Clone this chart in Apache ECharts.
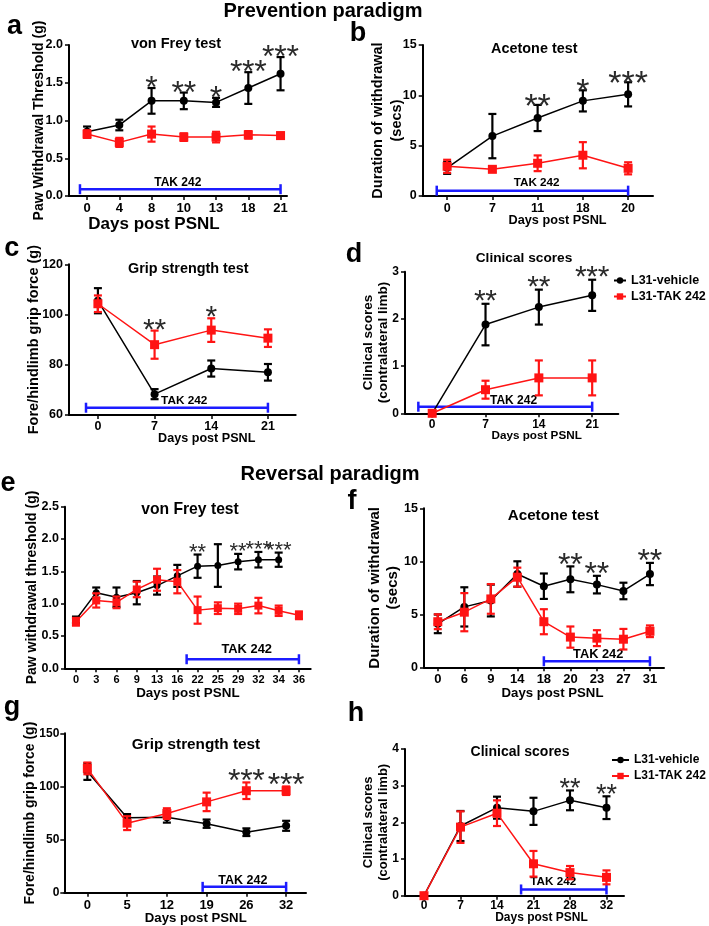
<!DOCTYPE html>
<html><head><meta charset="utf-8">
<script src="https://cdn.jsdelivr.net/npm/echarts@6/dist/echarts.min.js"></script>
<style>html,body{margin:0;padding:0;background:#fff}#c{width:709px;height:926px}</style>
</head><body><div id="c"></div>
<script>
// ================= DATA =================
// Panel a: Prevention, von Frey
const aDays = ['0','4','8','10','13','18','21'];
const aVehMean = [0.85, 0.94, 1.26, 1.26, 1.24, 1.43, 1.62];
const aVehErr  = [0.07, 0.07, 0.17, 0.11, 0.06, 0.21, 0.22];
const aTakMean = [0.82, 0.71, 0.82, 0.78, 0.78, 0.81, 0.80];
const aTakErr  = [0.05, 0.06, 0.10, 0.05, 0.07, 0.05, 0.04];
const aStars = ['', '', '*', '**', '*', '***', '***'];
const aTreat = [-0.22, 6, 0.09];          // [start index, end index, y value]
const aYAxis = [0, 2, 0.5];

// Panel b: Prevention, Acetone
const bDays = ['0','7','11','18','20'];
const bVehMean = [2.8, 5.95, 7.75, 9.45, 10.1];
const bVehErr  = [0.6, 2.2, 1.3, 1.05, 1.2];
const bTakMean = [2.95, 2.65, 3.25, 4.05, 2.75];
const bTakErr  = [0.65, 0.25, 0.78, 1.3, 0.6];
const bStars = ['', '', '**', '*', '***'];
const bTreat = [-0.23, 4, 0.53];
const bYAxis = [0, 15, 5];

// Panel c: Prevention, Grip strength
const cDays = ['0','7','14','21'];
const cVehMean = [105.5, 68.3, 78.5, 77];
const cVehErr  = [5, 2, 3.2, 3.3];
const cTakMean = [104.3, 88, 93.8, 90.6];
const cTakErr  = [3.3, 5.6, 4.7, 3.5];
const cStars = ['', '**', '*', ''];
const cTreat = [-0.21, 3, 62.9];
const cYAxis = [60, 120, 20];

// Panel d: Prevention, Clinical scores
const dDays = ['0','7','14','21'];
const dVehMean = [0, 1.88, 2.25, 2.5];
const dVehErr  = [0, 0.44, 0.37, 0.33];
const dTakMean = [0, 0.5, 0.75, 0.75];
const dTakErr  = [0, 0.19, 0.37, 0.37];
const dStars = ['', '**', '**', '***'];
const dTreat = [-0.26, 3, 0.14];
const dYAxis = [0, 3, 1];

// Panel e: Reversal, von Frey
const eDays = ['0','3','6','9','13','16','22','25','29','32','34','36'];
const eVehMean = [0.75, 1.17, 1.10, 1.17, 1.28, 1.43, 1.58, 1.59, 1.65, 1.68, 1.68];
const eVehErr  = [0.05, 0.08, 0.15, 0.18, 0.14, 0.17, 0.18, 0.33, 0.12, 0.12, 0.11];
const eTakMean = [0.72, 1.05, 1.02, 1.22, 1.37, 1.34, 0.90, 0.93, 0.92, 0.97, 0.89, 0.82];
const eTakErr  = [0.06, 0.11, 0.09, 0.12, 0.17, 0.18, 0.21, 0.09, 0.08, 0.12, 0.08, 0.06];
const eStars = ['', '', '', '', '', '', '**', '', '**', '***', '***', ''];
const eTreat = [5.46, 11, 0.14];
const eYAxis = [0, 2.5, 0.5];

// Panel f: Reversal, Acetone
const fDays = ['0','6','9','14','18','20','23','27','31'];
const fVehMean = [4.1, 5.7, 6.3, 8.8, 7.65, 8.3, 7.8, 7.2, 8.8];
const fVehErr  = [0.88, 1.85, 1.5, 1.2, 1.2, 1.22, 0.83, 0.78, 1.05];
const fTakMean = [4.3, 5.2, 6.45, 8.5, 4.3, 2.85, 2.75, 2.65, 3.4];
const fTakErr  = [0.7, 1.8, 1.4, 0.9, 1.18, 1.0, 0.75, 0.97, 0.55];
const fStars = ['', '', '', '', '', '**', '**', '', '**'];
const fTreat = [4, 8, 0.57];
const fYAxis = [0, 15, 5];

// Panel g: Reversal, Grip strength
const gDays = ['0','5','12','19','26','32'];
const gVehMean = [114, 70.5, 71, 65, 57, 63];
const gVehErr  = [7.8, 3.5, 5, 3.9, 3.6, 4.7];
const gTakMean = [117, 65.5, 74.5, 85.5, 96, 96];
const gTakErr  = [5.5, 6.5, 5, 8.7, 7.8, 4];
const gStars = ['', '', '', '', '***', '***'];
const gTreat = [2.9, 5, 5.6];
const gYAxis = [0, 150, 50];

// Panel h: Reversal, Clinical scores
const hDays = ['0','7','14','21','28','32'];
const hVehMean = [0, 1.9, 2.4, 2.3, 2.6, 2.4];
const hVehErr  = [0, 0.41, 0.3, 0.37, 0.27, 0.31];
const hTakMean = [0, 1.87, 2.25, 0.87, 0.63, 0.5];
const hTakErr  = [0, 0.43, 0.35, 0.35, 0.18, 0.19];
const hStars = ['', '', '', '', '**', '**'];
const hTreat = [2.66, 5, 0.17];
const hYAxis = [0, 4, 1];

const seriesNames = ['L31-vehicle', 'L31-TAK 242'];
const treatLabel = 'TAK 242';
const xName = 'Days post PSNL';

// ================= LAYOUT / STYLE =================
const FONT = '"Liberation Sans", Arial, sans-serif';
const BLACK = '#000', RED = '#ff1414', BLUE = '#1c1cff', STAR = '#2a2a2a';

const panels = [
 {days:aDays, vm:aVehMean, ve:aVehErr, tm:aTakMean, te:aTakErr, stars:aStars, treat:aTreat, y:aYAxis, dec:1,
  title:'von Frey test', yName:'Paw Withdrawal Threshold (g)', letter:'a',
  L:{grid:[69,45,218,151], xr:[-0.56,6.2], tt:[176,44,14.5], lt:[14.5,27], ynf:14, ynl:16, yng:22, xnf:17, xng:19.5, xns:-24,
     xtf:13, ytf:12.5, xlm:6, ylm:6, sf:32, sg:12.2, so:6, tf:12, tdy:7, tdx:-2.5, sym:8}},
 {days:bDays, vm:bVehMean, ve:bVehErr, tm:bTakMean, te:bTakErr, stars:bStars, treat:bTreat, y:bYAxis, dec:0,
  title:'Acetone test', yName:'Duration of withdrawal\n(secs)', letter:'b',
  L:{grid:[422.7,45,230.3,151], xr:[-0.54,4.55], tt:[534.3,49,14.4], lt:[358,34], ynf:14.5, ynl:19, yng:16, xnf:12.7, xng:17.6, xns:19.7,
     xtf:12.5, ytf:12.5, xlm:6, ylm:6, sf:34, sg:13.2, so:5, tf:11.7, tdy:7.7, tdx:4.2, sym:8}},
 {days:cDays, vm:cVehMean, ve:cVehErr, tm:cTakMean, te:cTakErr, stars:cStars, treat:cTreat, y:cYAxis, dec:0,
  title:'Grip strength test', yName:'Fore/hindlimb grip force (g)', letter:'c',
  L:{grid:[69,264.3,226.7,150.7], xr:[-0.51,3.49], tt:[188.3,269.3,14.4], lt:[11.7,249], ynf:14.5, ynl:16, yng:26.7, xnf:12.6, xng:17.2, xns:24.4,
     xtf:12.5, ytf:12.5, xlm:5.5, ylm:6, sf:30, sg:11.3, so:7, tf:11.8, tdy:6.7, tdx:7.3, sym:8}},
 {days:dDays, vm:dVehMean, ve:dVehErr, tm:dTakMean, te:dTakErr, stars:dStars, treat:dTreat, y:dYAxis, dec:0,
  title:'Clinical scores', yName:'Clinical scores\n(contralateral limb)', letter:'d',
  L:{grid:[405,271.7,213.3,141.6], xr:[-0.51,3.49], tt:[524,258.3,13.7], lt:[354,255], ynf:13.5, ynl:15, yng:14.5, xnf:11.7, xng:16.8, xns:25,
     xtf:12, ytf:12, xlm:5.5, ylm:6, sf:30, sg:11.3, so:9, tf:12, tdy:6, tdx:8.3, sym:8}},
 {days:eDays, vm:eVehMean, ve:eVehErr, tm:eTakMean, te:eTakErr, stars:eStars, treat:eTreat, y:eYAxis, dec:1,
  title:'von Frey test', yName:'Paw withdrawal threshold (g)', letter:'e',
  L:{grid:[65,506.7,245.7,161.6], xr:[-0.54,11.58], tt:[190,509.3,15.7], lt:[8,484], ynf:14, ynl:16, yng:25, xnf:13.4, xng:18.5, xns:0,
     xtf:11, ytf:12.5, xlm:6.5, ylm:6, sf:22, sg:8.5, so:7, tf:12.9, tdy:10, tdx:3.9, sym:7}},
 {days:fDays, vm:fVehMean, ve:fVehErr, tm:fTakMean, te:fTakErr, stars:fStars, treat:fTreat, y:fYAxis, dec:0,
  title:'Acetone test', yName:'Duration of withdrawal\n(secs)', letter:'f',
  L:{grid:[424,508.3,240,159], xr:[-0.52,8.53], tt:[553.3,516,15.2], lt:[352,502], ynf:15, ynl:18, yng:22, xnf:13.2, xng:19.6, xns:8.5,
     xtf:13, ytf:12.5, xlm:5.5, ylm:6, sf:32, sg:12.2, so:8, tf:12.8, tdy:7, tdx:1.3, sym:8}},
 {days:gDays, vm:gVehMean, ve:gVehErr, tm:gTakMean, te:gTakErr, stars:gStars, treat:gTreat, y:gYAxis, dec:0,
  title:'Grip strength test', yName:'Fore/hindlimb grip force (g)', letter:'g',
  L:{grid:[64.3,733.3,241.7,160], xr:[-0.58,5.5], tt:[196,745,15.3], lt:[12,708], ynf:14, ynl:16, yng:26, xnf:13.2, xng:19.2, xns:10.6,
     xtf:13, ytf:12, xlm:6, ylm:5, sf:32, sg:12.2, so:8, tf:12.5, tdy:6.6, tdx:-1.6, sym:8}},
 {days:hDays, vm:hVehMean, ve:hVehErr, tm:hTakMean, te:hTakErr, stars:hStars, treat:hTreat, y:hYAxis, dec:0,
  title:'Clinical scores', yName:'Clinical scores\n(contralateral limb)', letter:'h',
  L:{grid:[405,749,219,146.7], xr:[-0.52,5.48], tt:[520,751.7,14], lt:[356,714], ynf:13, ynl:15, yng:14.2, xnf:12, xng:16.1, xns:27,
     xtf:12, ytf:12, xlm:3.5, ylm:6, sf:27, sg:10.3, so:7, tf:11.7, tdy:7.6, tdx:-10.5, sym:8}}
];

function errRender(color, cap) {
  return function (params, api) {
    const x = api.value(0), m = api.value(1), e = api.value(2);
    if (!(e > 0)) return null;
    const t = api.coord([x, m + e]), b = api.coord([x, m - e]);
    const st = {stroke: color, lineWidth: 2.2};
    return {type: 'group', children: [
      {type: 'line', shape: {x1: t[0], y1: t[1], x2: b[0], y2: b[1]}, style: st},
      {type: 'line', shape: {x1: t[0] - cap, y1: t[1], x2: t[0] + cap, y2: t[1]}, style: st},
      {type: 'line', shape: {x1: b[0] - cap, y1: b[1], x2: b[0] + cap, y2: b[1]}, style: st}
    ]};
  };
}

const grids = [], xAxes = [], yAxes = [], series = [], graphics = [];
const txt = (size, extra) => Object.assign({color: BLACK, fontWeight: 'bold', fontSize: size, fontFamily: FONT}, extra || {});

graphics.push({type: 'text', x: 323, y: 11, style: {text: 'Prevention paradigm', fontSize: 20, fontWeight: 'bold', fontFamily: FONT, fill: BLACK, align: 'center', verticalAlign: 'middle'}});
graphics.push({type: 'text', x: 330, y: 474, style: {text: 'Reversal paradigm', fontSize: 20, fontWeight: 'bold', fontFamily: FONT, fill: BLACK, align: 'center', verticalAlign: 'middle'}});

panels.forEach((p, k) => {
  const L = p.L;
  grids.push({left: L.grid[0], top: L.grid[1], width: L.grid[2], height: L.grid[3], containLabel: false});
  const idx = p.days.map((_, i) => i);
  xAxes.push({
    type: 'value', gridIndex: k, min: L.xr[0], max: L.xr[1],
    axisLine: {show: true, onZero: false, lineStyle: {color: BLACK, width: 2}},
    axisTick: {show: true, customValues: idx, length: 4, lineStyle: {color: BLACK, width: 1.5}},
    axisLabel: {customValues: idx, formatter: v => p.days[Math.round(v)], color: BLACK, fontWeight: 'bold', fontSize: L.xtf, fontFamily: FONT, margin: L.xlm},
    splitLine: {show: false},
    name: xName, nameLocation: 'middle', nameGap: L.xng, nameMoveOverlap: false,
    nameTextStyle: txt(L.xnf, {padding: L.xns >= 0 ? [0, 0, 0, 2 * L.xns] : [0, -2 * L.xns, 0, 0]})
  });
  yAxes.push({
    type: 'value', gridIndex: k, min: p.y[0], max: p.y[1], interval: p.y[2],
    axisLine: {show: true, onZero: false, lineStyle: {color: BLACK, width: 2}},
    axisTick: {show: true, length: 4, lineStyle: {color: BLACK, width: 1.5}},
    axisLabel: {formatter: v => v.toFixed(p.dec), color: BLACK, fontWeight: 'bold', fontSize: L.ytf, fontFamily: FONT, margin: L.ylm},
    splitLine: {show: false},
    name: p.yName, nameLocation: 'middle', nameRotate: 90, nameGap: L.yng, nameMoveOverlap: false,
    nameTextStyle: txt(L.ynf, {lineHeight: L.ynl})
  });

  // treatment bar
  series.push({
    type: 'custom', xAxisIndex: k, yAxisIndex: k, silent: true, z: 1,
    data: [p.treat],
    renderItem: (params, api) => {
      const s = api.coord([api.value(0), api.value(2)]), e = api.coord([api.value(1), api.value(2)]);
      const st = {stroke: BLUE, lineWidth: 2.5};
      return {type: 'group', children: [
        {type: 'line', shape: {x1: s[0], y1: s[1], x2: e[0], y2: e[1]}, style: st},
        {type: 'line', shape: {x1: s[0], y1: s[1] - 5, x2: s[0], y2: s[1] + 5}, style: st},
        {type: 'line', shape: {x1: e[0], y1: e[1] - 5, x2: e[0], y2: e[1] + 5}, style: st},
        {type: 'text', x: (s[0] + e[0]) / 2 + L.tdx, y: s[1] - L.tdy,
         style: {text: treatLabel, fontSize: L.tf, fontWeight: 'bold', fontFamily: FONT, fill: BLACK, align: 'center', verticalAlign: 'middle'}}
      ]};
    }
  });

  series.push({type: 'custom', xAxisIndex: k, yAxisIndex: k, silent: true, z: 2,
    data: p.vm.map((v, i) => [i, v, p.ve[i]]), renderItem: errRender(BLACK, 4)});
  series.push({type: 'line', name: seriesNames[0], xAxisIndex: k, yAxisIndex: k, z: 3,
    data: p.vm.map((v, i) => [i, v]), symbol: 'circle', symbolSize: L.sym,
    itemStyle: {color: BLACK}, lineStyle: {color: BLACK, width: 1.5}});
  series.push({type: 'custom', xAxisIndex: k, yAxisIndex: k, silent: true, z: 4,
    data: p.tm.map((v, i) => [i, v, p.te[i]]), renderItem: errRender(RED, 4)});
  series.push({type: 'line', name: seriesNames[1], xAxisIndex: k, yAxisIndex: k, z: 5,
    data: p.tm.map((v, i) => [i, v]), symbol: 'rect', symbolSize: L.sym + 1,
    itemStyle: {color: RED}, lineStyle: {color: RED, width: 1.5}});

  // significance stars
  const starData = [], starText = [];
  p.stars.forEach((s, i) => {
    if (!s) return;
    const tops = [];
    if (p.vm[i] !== undefined) tops.push(p.vm[i] + p.ve[i]);
    if (p.tm[i] !== undefined) tops.push(p.tm[i] + p.te[i]);
    starData.push([i, Math.max.apply(null, tops)]);
    starText.push(s);
  });
  series.push({type: 'custom', xAxisIndex: k, yAxisIndex: k, silent: true, z: 6, data: starData,
    renderItem: (params, api) => {
      const c = api.coord([api.value(0), api.value(1)]);
      const s = starText[params.dataIndex], n = s.length;
      const children = [];
      for (let j = 0; j < n; j++) {
        children.push({type: 'text', x: c[0] + (j - (n - 1) / 2) * L.sg, y: c[1] - L.so + 0.23 * L.sf,
          style: {text: '*', fontSize: L.sf, fontFamily: FONT, fill: STAR, align: 'center', verticalAlign: 'middle'}});
      }
      return {type: 'group', children};
    }});

  graphics.push({type: 'text', x: L.tt[0], y: L.tt[1], style: {text: p.title, fontSize: L.tt[2], fontWeight: 'bold', fontFamily: FONT, fill: BLACK, align: 'center', verticalAlign: 'middle'}});
  graphics.push({type: 'text', x: L.lt[0], y: L.lt[1], style: {text: p.letter, fontSize: 27, fontWeight: 'bold', fontFamily: FONT, fill: BLACK, align: 'center', verticalAlign: 'middle'}});
});

const legendBase = {data: seriesNames, orient: 'vertical', selectedMode: false, itemHeight: 8, padding: 0,
  textStyle: {color: BLACK, fontWeight: 'bold', fontFamily: FONT}};

const chart = echarts.init(document.getElementById('c'), null, {renderer: 'canvas'});
chart.setOption({
  animation: false,
  backgroundColor: '#fff',
  grid: grids, xAxis: xAxes, yAxis: yAxes, series: series,
  legend: [
    Object.assign({}, legendBase, {left: 613, top: 274, itemWidth: 12, itemGap: 3, textStyle: Object.assign({}, legendBase.textStyle, {fontSize: 12.5})}),
    Object.assign({}, legendBase, {left: 611, top: 754, itemWidth: 17, itemGap: 4, textStyle: Object.assign({}, legendBase.textStyle, {fontSize: 12})})
  ],
  graphic: graphics
});
</script></body></html>
